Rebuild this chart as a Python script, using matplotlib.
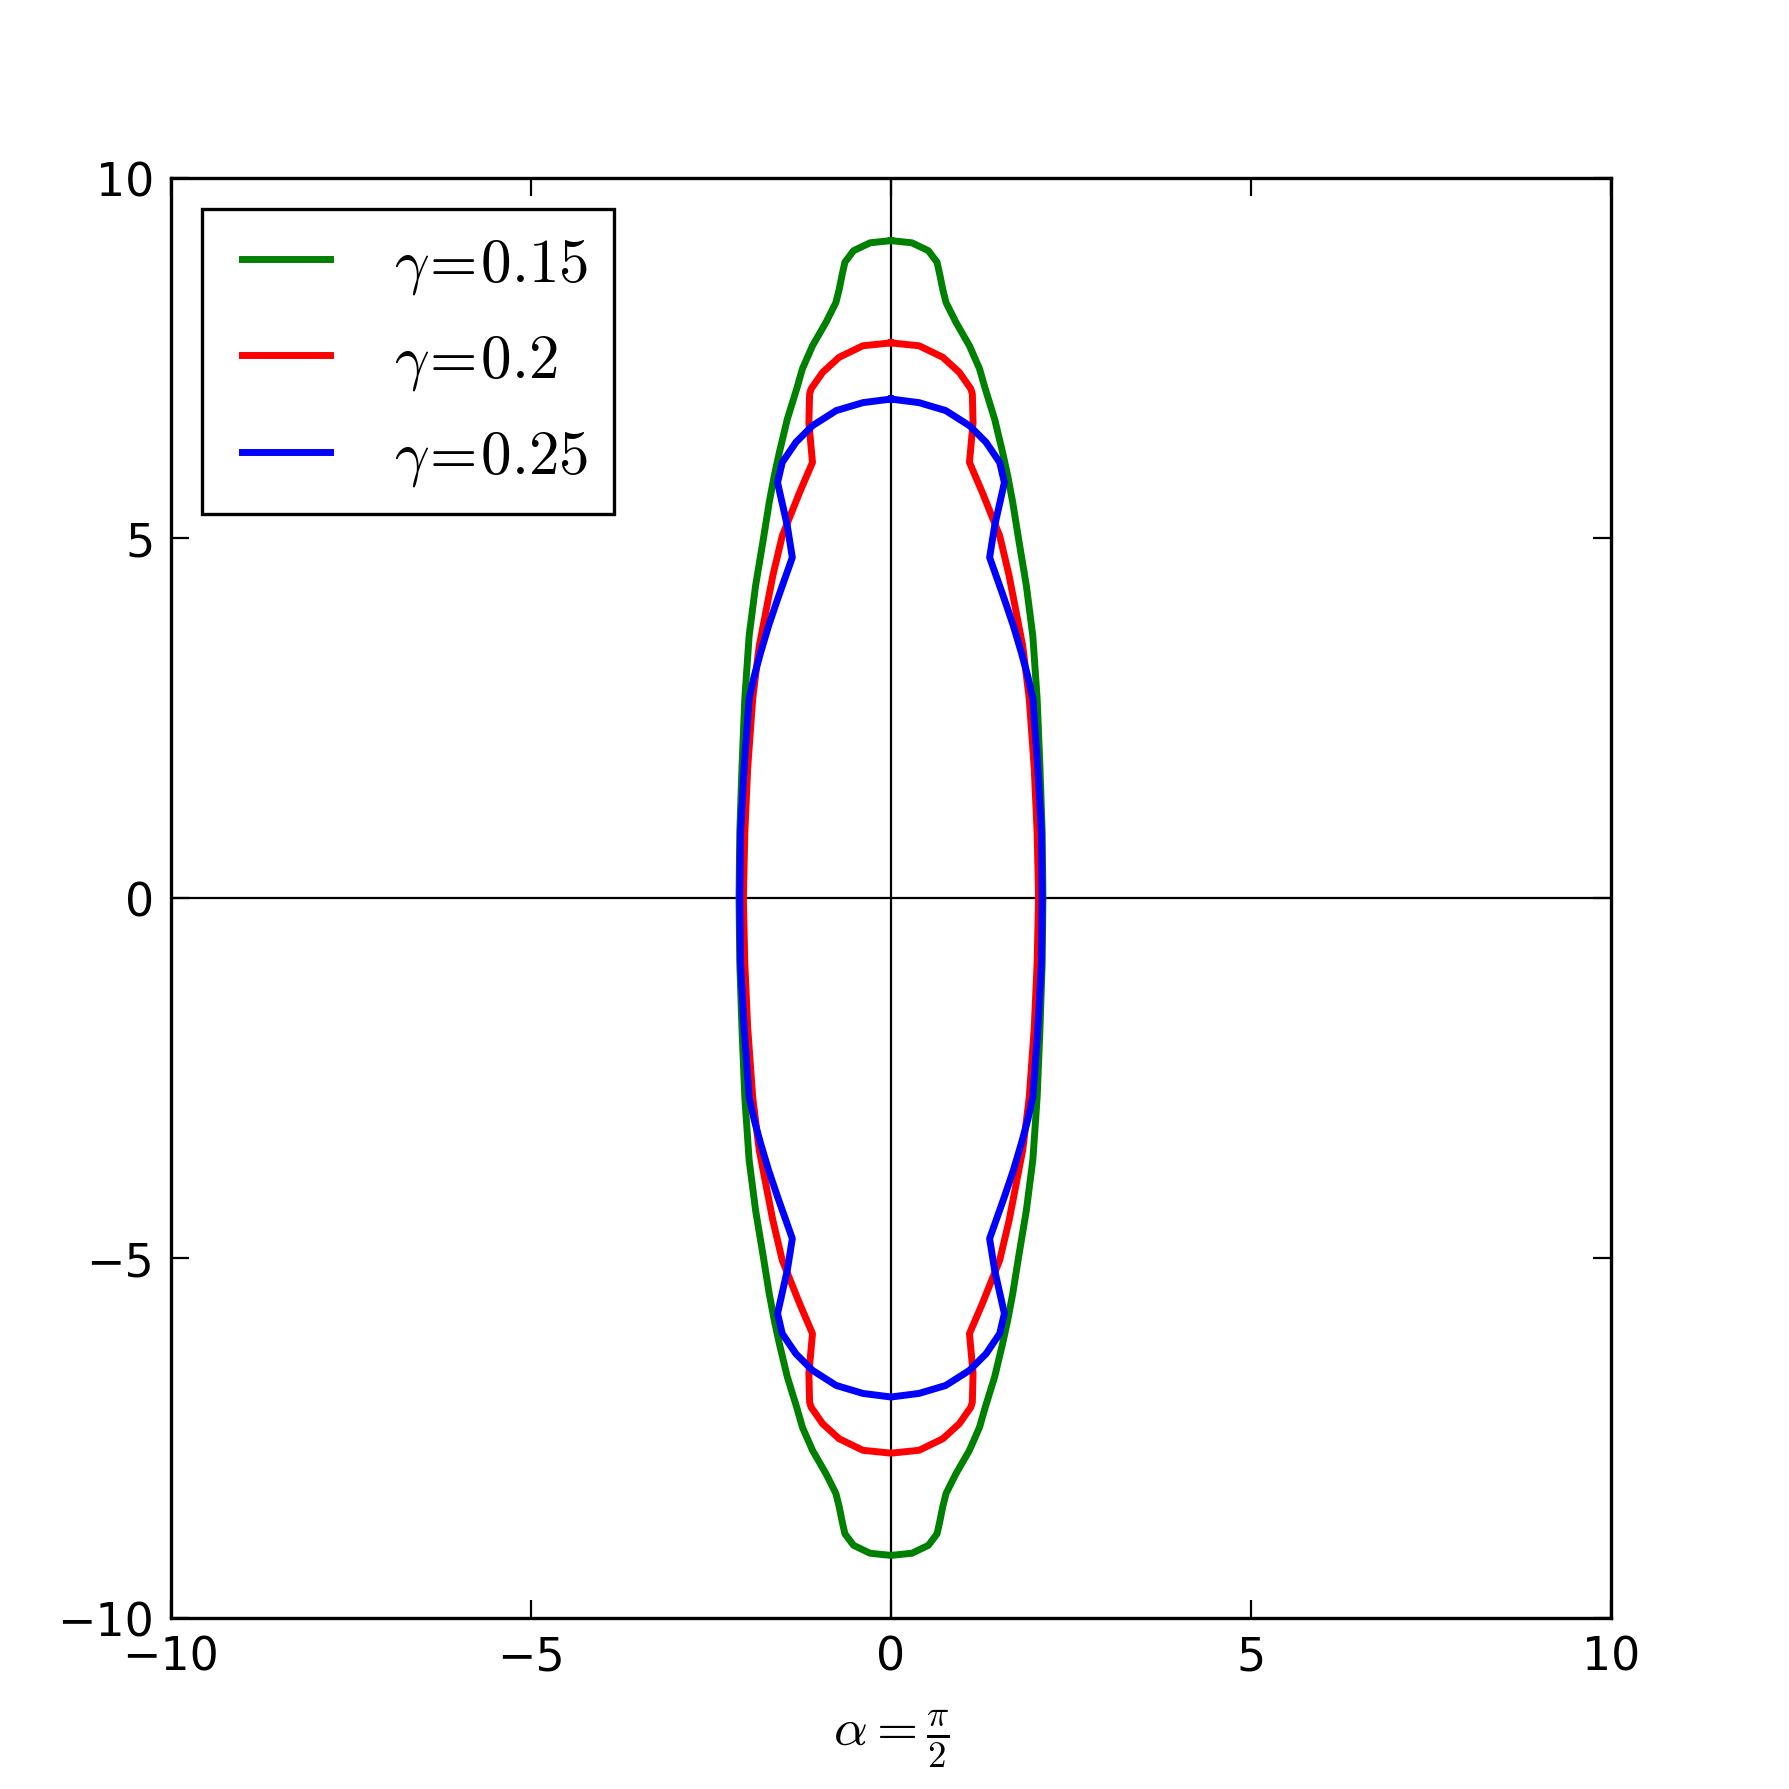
import numpy as np
import matplotlib
matplotlib.use("Agg")
import matplotlib.pyplot as plt
from matplotlib.legend_handler import HandlerLine2D

plt.rcParams['mathtext.fontset'] = 'cm'
plt.rcParams['font.family'] = ['DejaVu Sans']

# First-quadrant outline of each closed curve (x >= 0, y from top down to 0),
# read from the picture; curves are symmetric about both axes.
green_x = [0.00, 0.29, 0.52, 0.64, 0.68, 0.72, 0.765, 0.90, 1.09, 1.23, 1.31, 1.44, 1.55, 1.62, 1.69, 1.78, 1.88, 1.97, 2.03, 2.07, 2.10, 2.11]
green_y = [9.13, 9.10, 8.99, 8.83, 8.65, 8.45, 8.27, 8.00, 7.67, 7.35, 7.07, 6.65, 6.19, 5.87, 5.50, 4.94, 4.34, 3.64, 2.77, 1.80, 0.90, 0.00]

red_x = [0.00, 0.39, 0.72, 0.95, 1.11, 1.13, 1.14, 1.09, 1.27, 1.51, 1.64, 1.83, 1.92, 1.99, 2.03, 2.05]
red_y = [7.71, 7.67, 7.51, 7.30, 7.07, 7.00, 6.60, 6.05, 5.63, 5.03, 4.48, 3.50, 2.77, 1.80, 0.90, 0.00]

blue_x = [0.00, 0.39, 0.76, 1.09, 1.32, 1.51, 1.575, 1.44, 1.37, 1.575, 1.70, 1.81, 1.90, 1.97, 2.04, 2.09, 2.10]
blue_y = [6.93, 6.88, 6.77, 6.56, 6.33, 6.05, 5.77, 5.17, 4.73, 4.15, 3.78, 3.41, 3.08, 2.77, 1.80, 0.90, 0.00]

labels = [r'$\gamma\hspace{-0.13}=\hspace{-0.13}0.15$',
          r'$\gamma\hspace{-0.13}=\hspace{-0.13}0.2$',
          r'$\gamma\hspace{-0.13}=\hspace{-0.13}0.25$']
colors = ['green', 'red', 'blue']
ticks = [-10, -5, 0, 5, 10]


def closed(qx, qy):
    qx = np.asarray(qx, float)
    qy = np.asarray(qy, float)
    rx = np.concatenate([qx, qx[::-1][1:]])
    ry = np.concatenate([qy, -qy[::-1][1:]])
    x = np.concatenate([rx, -rx[::-1][1:]])
    y = np.concatenate([ry, ry[::-1][1:]])
    return x, y


class InsetLine(HandlerLine2D):
    def get_xdata(self, legend, xdescent, ydescent, width, height, fontsize):
        xdata = np.array([-xdescent + 0.145 * width, -xdescent + width])
        return xdata, np.array([-xdescent + 0.57 * width])


fig = plt.figure(figsize=(8.95, 8.95), dpi=200)
ax = fig.add_axes([0.0955, 0.0955, 0.8045, 0.8045])

lines = []
for (qx, qy), c, lab in zip([(green_x, green_y), (red_x, red_y), (blue_x, blue_y)], colors, labels):
    x, y = closed(qx, qy)
    ln, = ax.plot(x, y, color=c, lw=2.5, label=lab, solid_joinstyle='round')
    lines.append(ln)

ax.axhline(0, color='black', lw=0.8, zorder=0)
ax.axvline(0, color='black', lw=0.8, zorder=0)

ax.set_xlim(-10, 10)
ax.set_ylim(-10, 10)
ax.set_xticks(ticks)
ax.set_yticks(ticks)
ax.tick_params(direction='in', length=6.5, width=0.8, top=True, right=True,
               labelsize=16.5, pad=6)
for s in ax.spines.values():
    s.set_linewidth(1.2)

ax.set_xlabel(r'$\alpha=\frac{\pi}{2}$', fontsize=19, labelpad=10)

leg = ax.legend(loc='upper left', fontsize=22, handlelength=1.68, handletextpad=1.05,
                labelspacing=0.57, borderpad=0.42, fancybox=False, framealpha=1,
                handler_map={ln: InsetLine() for ln in lines})
leg.get_frame().set_edgecolor('black')
leg.get_frame().set_linewidth(1.2)

fig.savefig('out.png', dpi=200, facecolor='white')
